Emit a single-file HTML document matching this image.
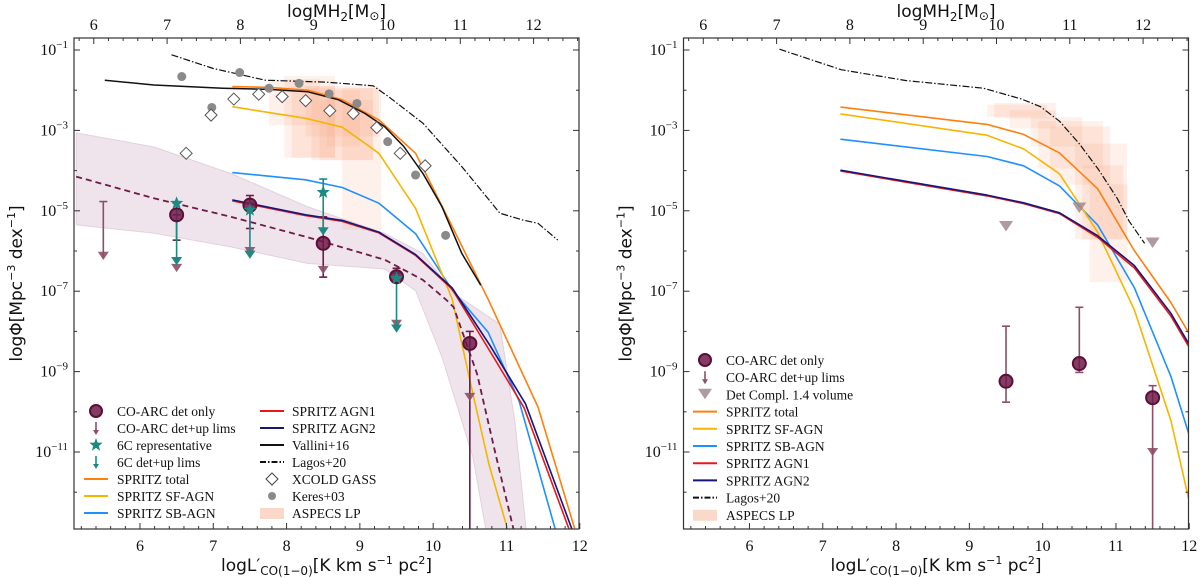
<!DOCTYPE html>
<html><head><meta charset="utf-8">
<style>
html,body{margin:0;padding:0;background:#fff;}
svg{display:block;}
</style></head>
<body>
<svg id="chart" width="1200" height="578" viewBox="0 0 1200 578" xmlns="http://www.w3.org/2000/svg"></svg>
<script>
// ===== DATA (left panel) =====
const lagosL_A = [6.43,7.0,7.71,8.55,9.18,9.39,9.86,10.39,10.91,11.22,11.43,11.7];
const lagosP_A = [-1.12,-1.46,-1.75,-1.8,-1.89,-2.16,-2.82,-3.9,-5.06,-5.23,-5.31,-5.73];
const valliniL = [5.52,6.19,7.13,7.76,8.29,8.71,9.07,9.34,9.6,9.86,10.12,10.39,10.65];
const valliniP = [-1.75,-1.87,-1.95,-1.98,-2.04,-2.24,-2.58,-2.91,-3.4,-4.07,-4.9,-6.06,-6.85];
const totL_A = [7.26,7.76,8.29,8.76,9.26,9.76,10.26,10.75,11.43,11.93];
const totP_A = [-1.91,-1.93,-2.0,-2.24,-2.74,-3.57,-5.39,-7.2,-9.88,-12.9];
const sfL_A = [7.26,8.26,8.76,9.26,9.76,10.26,10.51,10.76,11.02];
const sfP_A = [-2.41,-2.7,-2.92,-3.57,-4.94,-7.2,-9.3,-11.3,-12.95];
const sbL_A = [7.26,8.26,8.76,9.26,9.76,10.26,10.75,11.17,11.67];
const sbP_A = [-4.05,-4.23,-4.42,-4.81,-5.57,-6.97,-8.02,-9.72,-12.95];
const agn2L_A = [7.26,8.26,8.76,9.26,9.76,10.26,10.78,11.26,11.9];
const agn2P_A = [-4.73,-5.1,-5.24,-5.53,-6.09,-6.92,-8.36,-9.8,-12.95];
const agn1L_A = [7.26,8.26,8.76,9.26,9.76,10.26,10.76,11.24,11.86];
const agn1P_A = [-4.75,-5.12,-5.26,-5.55,-6.11,-6.95,-8.45,-9.9,-12.95];
const fitL = [5.13,6.19,7.24,8.29,9.34,9.86,10.18,10.28,10.6,10.86,11.1];
const fitP = [-4.15,-4.69,-5.15,-5.66,-6.22,-6.72,-7.22,-7.4,-9.06,-11.12,-12.95];
const bandUpL = [5.13,6.19,7.24,8.29,9.34,9.86,10.28,10.91,11.12,11.27];
const bandUpP = [-3.06,-3.41,-4.07,-4.9,-5.56,-6.06,-7.05,-7.82,-10.3,-12.95];
const bandLoL = [5.13,6.19,7.24,8.29,9.34,9.76,10.12,10.54,10.72];
const bandLoP = [-5.35,-5.56,-5.9,-6.31,-6.45,-6.99,-8.64,-11.12,-12.95];
const keresL = [6.57,6.98,7.36,7.76,8.17,8.58,8.96,9.38,9.76,10.17];
const keresP = [-1.66,-2.43,-1.56,-1.95,-1.83,-2.09,-2.33,-3.28,-4.11,-5.61];
const xcoldL = [6.63,6.97,7.28,7.62,7.94,8.26,8.59,8.91,9.23,9.55,9.89];
const xcoldP = [-3.57,-2.62,-2.22,-2.1,-2.16,-2.26,-2.51,-2.58,-2.93,-3.57,-3.88];
const coL_A = [6.5,7.5,8.5,9.5,10.5];
const coP_A = [-5.1,-4.86,-5.81,-6.64,-8.3];
const coUp_A = [-5.1,-4.62,-5.15,-6.43,-8.0];
const coLo_A = [-5.73,-5.44,-6.65,-6.64,-12.95];
const coArr_A = [-6.47,-6.05,-6.52,-7.86,-9.68];
const limL = [5.5];
const limTop = [-4.77];
const limArr = [-6.17];
const sixL = [6.5,7.5,8.5,9.5];
const sixP = [-4.81,-4.98,-4.54,-6.68];
const sixUp = [-4.81,-4.8,-4.21,-6.55];
const sixArr = [-6.3,-6.14,-5.56,-7.98];
const aspA_L0 = [7.76,7.97,8.07,8.26,8.34,8.45,8.55,8.76];
const aspA_L1 = [8.45,8.66,8.66,9.26,9.18,9.18,9.0,9.29];
const aspA_P0 = [-1.73,-1.65,-1.9,-1.9,-1.95,-2.24,-2.0,-1.95];
const aspA_P1 = [-2.87,-3.68,-3.68,-3.15,-3.74,-3.74,-3.4,-5.47];
// ===== DATA (right panel) =====
const lagosL_B = [6.41,7.25,8.14,9.19,9.71,9.97,10.23,10.5,10.76,11.02,11.18,11.39];
const lagosP_B = [-0.98,-1.49,-1.76,-1.95,-2.22,-2.41,-2.77,-3.33,-3.97,-4.7,-5.26,-5.81];
const splL_B = [7.24,9.24,9.74,10.23,10.75,11.25,11.75,12.0];
const totP_B = [-2.42,-2.85,-3.1,-3.56,-4.45,-5.99,-7.28,-8.06];
const sfP_B = [-2.59,-3.12,-3.46,-4.08,-5.53,-7.46,-10.22,-12.24];
const sbP_B = [-3.22,-3.65,-3.88,-4.38,-5.35,-6.91,-9.12,-10.59];
const agn2P_B = [-3.99,-4.61,-4.8,-5.05,-5.62,-6.36,-7.55,-8.33];
const agn1P_B = [-4.01,-4.63,-4.82,-5.07,-5.66,-6.42,-7.62,-8.4];
const compL = [9.5,10.5,11.5];
const compP = [-5.37,-4.91,-5.78];
const coL_B = [9.5,10.5,11.5];
const coP_B = [-9.24,-8.8,-9.65];
const coUp_B = [-7.87,-7.4,-9.35];
const coLo_B = [-9.76,-9.02,-12.95];
const coArr_B = [null,null,-11.05];
const aspB_L0 = [9.24,9.34,9.55,9.84,9.94,10.1,10.44,10.54,10.64];
const aspB_L1 = [10.05,10.18,10.18,10.54,10.82,10.92,11.15,11.1,11.16];
const aspB_P0 = [-2.36,-2.32,-2.5,-2.67,-2.77,-2.9,-3.33,-3.87,-4.34];
const aspB_P1 = [-2.66,-2.7,-2.95,-3.4,-3.95,-4.35,-5.71,-5.71,-6.77];

// ===== rendering =====
const NS='http://www.w3.org/2000/svg';
const svg=document.getElementById('chart');
function mk(tag,attrs,parent){const e=document.createElementNS(NS,tag);for(const k in attrs)e.setAttribute(k,attrs[k]);(parent||svg).appendChild(e);return e;}
const PX=73.3, PY=40.2, TOP=38, BOT=529, W=505;
const SERIF='"Liberation Serif","DejaVu Serif",serif';
const SANS='"DejaVu Sans","Liberation Sans",sans-serif';
const C={orange:'#ff7f0e',yellow:'#f7b500',blue:'#1e90ff',red:'#e8191a',navy:'#16157a',purple:'#6e1a4a',mauve:'#8e4e68',teal:'#1c8a82',gray:'#8a8a8a'};

function panel(x0,id){
  const g=mk('g',{});
  
  
  const xs=v=>x0+(v-5.1)*PX;
  const ys=v=>50+(-1-v)*PY;
  const clip=mk('clipPath',{id:'clip-'+id},g);
  mk('rect',{x:x0,y:TOP,width:W,height:BOT-TOP},clip);
  const pg=mk('g',{'clip-path':'url(#clip-'+id+')'},g);
  
  
  return {g,pg,xs,ys,x0};
}
function line(P,Ls,Ps,color,w,name,dash){
  const d=Ls.map((l,i)=>(i?'L':'M')+P.xs(l).toFixed(1)+','+P.ys(Ps[i]).toFixed(1)).join('');
  const e=mk('path',{d,fill:'none',stroke:color,'stroke-width':w,'stroke-linejoin':'round'},P.pg);
  if(dash)e.setAttribute('stroke-dasharray',dash);
  
  
  return e;
}
function boxes(P,L0,L1,P0,P1,name){
  for(let i=0;i<L0.length;i++){
    const r=mk('rect',{x:P.xs(L0[i]),y:P.ys(P0[i]),width:P.xs(L1[i])-P.xs(L0[i]),height:P.ys(P1[i])-P.ys(P0[i]),fill:'#f6a07a','fill-opacity':0.16},P.pg);
    
    
  }
}
function tri(parent,x,y,s,fill,op){
  const e=mk('path',{d:`M${x-s},${y-s*1.1}L${x+s},${y-s*1.1}L${x},${y+s*0.4}Z`,fill,'fill-opacity':op||1},parent);
  return e;
}
function star(parent,x,y,r,fill){
  let d='';for(let i=0;i<10;i++){const a=-Math.PI/2+i*Math.PI/5;const rr=i%2?r*0.42:r;d+=(i?'L':'M')+(x+rr*Math.cos(a)).toFixed(1)+','+(y+rr*Math.sin(a)).toFixed(1);}
  return mk('path',{d:d+'Z',fill},parent);
}
function errbar(P,l,top,bot,color,name,caps){
  const x=P.xs(l);
  const g=mk('g',{},P.pg);
  
  
  mk('line',{x1:x,x2:x,y1:P.ys(top),y2:P.ys(bot),stroke:color,'stroke-width':1.6},g);
  (caps||[]).forEach(c=>mk('line',{x1:x-4,x2:x+4,y1:P.ys(c),y2:P.ys(c),stroke:color,'stroke-width':1.6},g));
  return g;
}
function axes(P,id,rightLabels){
  const g=P.g, x0=P.x0, xs=P.xs, ys=P.ys;
  const fr=mk('rect',{x:x0,y:TOP,width:W,height:BOT-TOP,fill:'none',stroke:'#333','stroke-width':1.2},g);
  
  
  // bottom ticks
  for(let v=5.2;v<=12.001;v+=0.2){
    const x=xs(v);const major=Math.abs(v-Math.round(v))<0.01;
    mk('line',{x1:x,x2:x,y1:BOT,y2:BOT-(major?6:3),stroke:'#333','stroke-width':1},g);
    if(major){const t=mk('text',{x,y:BOT+22,'text-anchor':'middle','font-family':SERIF,'font-size':16,fill:'#111'},g);t.textContent=Math.round(v);
      }
  }
  // top axis MH2 = L + 0.63
  for(let m=5.8;m<=12.63;m+=0.2){
    const x=xs(m-0.63);if(x<x0||x>x0+W)continue;const major=Math.abs(m-Math.round(m))<0.01;
    mk('line',{x1:x,x2:x,y1:TOP,y2:TOP+(major?6:3),stroke:'#333','stroke-width':1},g);
    if(major){const t=mk('text',{x,y:TOP-8,'text-anchor':'middle','font-family':SERIF,'font-size':16,fill:'#111'},g);t.textContent=Math.round(m);
      }
  }
  // y ticks
  for(let k=-1;k>=-12;k--){
    const y=ys(k);const major=(k%2!==0);
    mk('line',{x1:x0,x2:x0+(major?6:3),y1:y,y2:y,stroke:'#333','stroke-width':1},g);
    mk('line',{x1:x0+W,x2:x0+W-(major?6:3),y1:y,y2:y,stroke:'#333','stroke-width':1},g);
    if(major){const t=mk('text',{x:x0-6,y:y+5,'text-anchor':'end','font-family':SERIF,'font-size':16,fill:'#111'},g);
      
      t.appendChild(document.createTextNode('10'));
      const s=mk('tspan',{dy:-7,'font-size':11},t);s.textContent='\u2212'+(-k);}
  }
  const xl=mk('text',{x:x0+W/2,y:571,'text-anchor':'middle','font-family':SANS,'font-size':17,fill:'#111'},g);
  
  xl.innerHTML='logL\u2032<tspan font-size="12" dy="4">CO(1\u22120)</tspan><tspan dy="-4">[K km s</tspan><tspan font-size="11" dy="-7">\u22121</tspan><tspan dy="7"> pc</tspan><tspan font-size="11" dy="-7">2</tspan><tspan dy="7">]</tspan>';
  const tl=mk('text',{x:x0+W/2+10,y:17,'text-anchor':'middle','font-family':SANS,'font-size':17,fill:'#111'},g);
  
  tl.innerHTML='logMH<tspan font-size="12" dy="4">2</tspan><tspan dy="-4">[M</tspan><tspan font-size="12" dy="3">\u2299</tspan><tspan dy="-3">]</tspan>';
  const yl=mk('text',{x:0,y:0,'text-anchor':'middle','font-family':SANS,'font-size':17,fill:'#111',transform:`translate(${x0-52},${(TOP+BOT)/2}) rotate(-90)`},g);
  
  yl.innerHTML='log\u03A6[Mpc<tspan font-size="11" dy="-7">\u22123</tspan><tspan dy="7"> dex</tspan><tspan font-size="11" dy="-7">\u22121</tspan><tspan dy="7">]</tspan>';
}
function legend(g,entries,mx,tx,y0,dy){
  entries.forEach((e,i)=>{
    const y=y0+i*dy;
    const eg=mk('g',{},g);
    
    
    const t=e[0];
    if(t==='line'){const l=mk('line',{x1:mx-12,x2:mx+12,y1:y,y2:y,stroke:e[2],'stroke-width':2},eg);if(e[3])l.setAttribute('stroke-dasharray',e[3]);}
    else if(t==='circle')mk('circle',{cx:mx,cy:y,r:6,fill:C.purple,'fill-opacity':0.85,stroke:'#5a0f35','stroke-width':2},eg);
    else if(t==='arrow'){mk('line',{x1:mx,x2:mx,y1:y-6,y2:y+4,stroke:e[2],'stroke-width':1.6},eg);mk('path',{d:`M${mx-3},${y+2}L${mx+3},${y+2}L${mx},${y+7}Z`,fill:e[2]},eg);}
    else if(t==='star')star(eg,mx,y,7,C.teal);
    else if(t==='diamond')mk('path',{d:`M${mx},${y-6}L${mx+6},${y}L${mx},${y+6}L${mx-6},${y}Z`,fill:'#fff',stroke:'#444','stroke-width':1},eg);
    else if(t==='dot')mk('circle',{cx:mx,cy:y,r:4,fill:C.gray},eg);
    else if(t==='patch')mk('rect',{x:mx-12,y:y-5,width:24,height:11,fill:'#f6a07a','fill-opacity':0.4},eg);
    else if(t==='tri')tri(eg,mx,y+2,7,'#a08a92',0.85);
    const tt=mk('text',{x:tx,y:y+5,'font-family':SERIF,'font-size':13.5,fill:'#111'},eg);
    tt.textContent=e[1];
  });
}

// ---------- LEFT PANEL ----------
const A=panel(74,'left');
// band
{
  let d=bandUpL.map((l,i)=>(i?'L':'M')+A.xs(l)+','+A.ys(bandUpP[i])).join('');
  for(let i=bandLoL.length-1;i>=0;i--)d+='L'+A.xs(bandLoL[i])+','+A.ys(bandLoP[i]);
  const b=mk('path',{d:d+'Z',fill:'#9a5a88','fill-opacity':0.16,stroke:'#9a5a88','stroke-opacity':0.2},A.pg);
  
}
boxes(A,aspA_L0,aspA_L1,aspA_P0,aspA_P1,'aspecs-box');
line(A,lagosL_A,lagosP_A,'#111',1.2,'lagos20-line','7,2,1.5,2');
line(A,sbL_A,sbP_A,C.blue,1.6,'spritz-sb-agn-line');
line(A,sfL_A,sfP_A,C.yellow,1.6,'spritz-sf-agn-line');
line(A,totL_A,totP_A,C.orange,1.6,'spritz-total-line');
line(A,agn1L_A,agn1P_A,C.red,1.6,'spritz-agn1-line');
line(A,agn2L_A,agn2P_A,C.navy,1.6,'spritz-agn2-line');
line(A,valliniL,valliniP,'#111',1.5,'vallini16-line');
line(A,fitL,fitP,C.purple,1.8,'co-arc-fit-line','6,4');
keresL.forEach((l,i)=>{const c=mk('circle',{cx:A.xs(l),cy:A.ys(keresP[i]),r:4.5,fill:C.gray},A.pg);
  });
xcoldL.forEach((l,i)=>{const x=A.xs(l),y=A.ys(xcoldP[i]);const c=mk('path',{d:`M${x},${y-6}L${x+6},${y}L${x},${y+6}L${x-6},${y}Z`,fill:'#fff',stroke:'#555','stroke-width':1},A.pg);
  });
limL.forEach((l,i)=>{const g=errbar(A,l,limTop[i],limArr[i],C.mauve,'co-arc-upper-limit',[limTop[i]]);tri(g,A.xs(l),A.ys(limArr[i]),5.5,C.mauve,0.9);});
coL_A.forEach((l,i)=>{const g=errbar(A,l,coUp_A[i],coLo_A[i],C.purple,'co-arc-errorbar',[coUp_A[i],coLo_A[i]]);
  tri(g,A.xs(l),A.ys(coArr_A[i]),5.5,C.mauve,0.9);});
sixL.forEach((l,i)=>{const g=errbar(A,l,sixUp[i],sixArr[i],C.teal,'6c-errorbar',[sixUp[i]]);
  tri(g,A.xs(l),A.ys(sixArr[i]),5.5,C.teal,1);});
coL_A.forEach((l,i)=>{const c=mk('circle',{cx:A.xs(l),cy:A.ys(coP_A[i]),r:6.5,fill:C.purple,'fill-opacity':0.85,stroke:'#5a0f35','stroke-width':2},A.pg);
  });
sixL.forEach((l,i)=>{const s=star(A.pg,A.xs(l),A.ys(sixP[i]),7,C.teal);
  });
axes(A,'left');
{
  const lg=mk('g',{},A.g);
  legend(lg,[['circle','CO-ARC det only'],['arrow','CO-ARC det+up lims',C.mauve],['star','6C representative'],['arrow','6C det+up lims',C.teal],
    ['line','SPRITZ total',C.orange],['line','SPRITZ SF-AGN',C.yellow],['line','SPRITZ SB-AGN',C.blue]],96,117,411,17);
  legend(lg,[['line','SPRITZ AGN1',C.red],['line','SPRITZ AGN2',C.navy],['line','Vallini+16','#111'],['line','Lagos+20','#111','6,2,1.5,2'],
    ['diamond','XCOLD GASS'],['dot','Keres+03'],['patch','ASPECS LP']],272,292,411,17);
}

// ---------- RIGHT PANEL ----------
const B=panel(683.5,'right');
boxes(B,aspB_L0,aspB_L1,aspB_P0,aspB_P1,'aspecs-box');
line(B,splL_B,sbP_B,C.blue,1.6,'spritz-sb-agn-line');
line(B,splL_B,sfP_B,C.yellow,1.6,'spritz-sf-agn-line');
line(B,splL_B,totP_B,C.orange,1.6,'spritz-total-line');
line(B,splL_B,agn1P_B,C.red,1.6,'spritz-agn1-line');
line(B,splL_B,agn2P_B,C.navy,1.6,'spritz-agn2-line');
line(B,lagosL_B,lagosP_B,'#111',1.2,'lagos20-line','7,2,1.5,2');
compL.forEach((l,i)=>{const t=tri(B.pg,B.xs(l),B.ys(compP[i])+3,7,'#a08a92',0.85);
  });
coL_B.forEach((l,i)=>{const caps=[coUp_B[i],coLo_B[i]];const g=errbar(B,l,coUp_B[i],coLo_B[i],C.mauve,'co-arc-errorbar',caps);
  if(coArr_B[i]!==null)tri(g,B.xs(l),B.ys(coArr_B[i]),5.5,C.mauve,0.9);});
coL_B.forEach((l,i)=>{const c=mk('circle',{cx:B.xs(l),cy:B.ys(coP_B[i]),r:6.5,fill:C.purple,'fill-opacity':0.85,stroke:'#5a0f35','stroke-width':2},B.pg);
  });
axes(B,'right');
{
  const lg=mk('g',{},B.g);
  legend(lg,[['circle','CO-ARC det only'],['arrow','CO-ARC det+up lims',C.mauve],['tri','Det Compl. 1.4 volume'],
    ['line','SPRITZ total',C.orange],['line','SPRITZ SF-AGN',C.yellow],['line','SPRITZ SB-AGN',C.blue],['line','SPRITZ AGN1',C.red],
    ['line','SPRITZ AGN2',C.navy],['line','Lagos+20','#111','6,2,1.5,2'],['patch','ASPECS LP']],705,726,360,17.2);
}
</script>
</body></html>
